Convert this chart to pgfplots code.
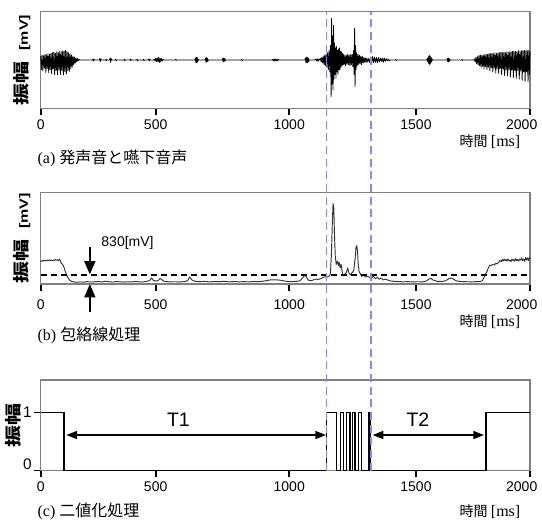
\documentclass[border=0pt]{standalone}
\usepackage{fontspec}
\setmainfont{Liberation Serif}
\setsansfont{Liberation Sans}
\newfontfamily\jp{Noto Sans CJK JP}
\usepackage{graphicx}
\usepackage{pgfplots}
\pgfplotsset{compat=1.18}
\usetikzlibrary{arrows.meta}
\definecolor{framegray}{gray}{0.5}
\definecolor{vblue}{RGB}{135,135,245}
\newcommand\tkf{\sffamily\fontsize{10.5}{12}\selectfont}
\newcommand\xlab{{\jp\fontsize{10.5}{12}\selectfont 時間} {\rmfamily\fontsize{12}{12}\selectfont [ms]}}
\newcommand\ylabmv{\scalebox{1}[0.75]{{\jp\bfseries\fontsize{16.5}{16.5}\selectfont 振幅}\hspace{8pt}{\sffamily\bfseries\fontsize{12}{12}\selectfont [mV]}}}
\pgfplotsset{
 panel/.style={
  scale only axis, width=367pt, xmin=0, xmax=2000,
  axis line style={draw=framegray, line width=0.8pt},
  xtick={0,470,1016,1534,2000},
  xticklabels={0,500,1000,1500,\hspace*{-12.4pt}2000},
  tick pos=left,
  tick align=outside, major tick length=5pt,
  xtick style={draw=black, line width=1.6pt},
  ytick style={draw=black, line width=0.7pt},
  xticklabel style={font=\tkf, inner xsep=1pt},
  clip=false,
 }
}
\begin{document}
\begin{tikzpicture}
\path (0,0) rectangle (406.5pt,-392.25pt);
% ---------------- (a)
\begin{axis}[panel, at={(30.5pt,-81.2pt)}, anchor=south west, height=72.45pt,
  ymin=-1, ymax=1, ytick=\empty,
  ylabel={\ylabmv}, ylabel style={at={(axis description cs:-0.0382,0.5)}, anchor=center},
  xlabel={\xlab}, xlabel style={at={(axis description cs:1,0)}, anchor=east, xshift=-3.75pt, yshift=-25pt}]
\addplot[black, line width=0.6pt, line join=round] coordinates {
(0,0.08)(3,-0.2)(6,0.1)(9,-0.22)(12,0.09)(15,-0.17)(18,0.12)(21,-0.26)(24,0.11)(27,-0.18)(30,0.13)(33,-0.27)(36,0.12)(39,-0.2)(42,0.14)(45,-0.29)(48,0.15)(51,-0.19)(54,0.16)(57,-0.3)(60,0.14)(63,-0.22)(66,0.17)(69,-0.31)(72,0.16)(75,-0.2)(78,0.18)(81,-0.3)(84,0.17)(87,-0.22)(90,0.19)(93,-0.31)(96,0.18)(99,-0.24)(102,0.2)(105,-0.29)(108,0.17)(111,-0.22)(114,0.15)(117,-0.24)(120,0.13)(123,-0.18)(126,0.1)(129,-0.15)(132,0.08)(135,-0.1)(138,0.06)(141,-0.07)(144,0.04)(147,-0.04)(150,0.03)(153,-0.02)(156,0.01)(160,0)
(170,0)(212,0)(214,0.02)(216,-0.02)(218,0.01)(220,0)(240,0)(242,0.03)(244,-0.03)(246,0.02)(248,0)(265,0)(267,0.015)(269,-0.015)(271,0)(282,0)(284,0.04)(286,-0.05)(288,0.03)(290,0)(305,0)(307,0.015)(309,-0.02)(311,0)(340,0)(342,0.015)(344,-0.015)(346,0)(365,0)(367,0.02)(369,-0.015)(371,0)(392,0)(394,0.015)(396,-0.02)(398,0)(418,0)(420,0.015)(422,-0.015)(424,0)(440,0)(442,0.02)(444,-0.02)(446,0.01)(448,0)(462,0)(464,0.02)(467,-0.02)(470,0.03)(473,-0.03)(476,0.04)(479,-0.04)(482,0.05)(485,-0.05)(488,0.04)(491,-0.04)(494,0.03)(497,-0.02)(500,0.01)(503,0)(550,0)(552,0.01)(554,-0.01)(556,0)(630,0)(632,0.04)(634,-0.05)(636,0.06)(638,-0.06)(640,0.05)(642,-0.04)(644,0.02)(646,0)(672,0)(674,0.04)(676,-0.05)(678,0.05)(680,-0.04)(682,0.03)(684,-0.02)(686,0)(742,0)(744,0.03)(746,-0.04)(748,0.04)(750,-0.03)(752,0.03)(754,-0.02)(756,0)(820,0)(822,0.01)(824,-0.01)(826,0)(945,0)(948,0.015)(951,-0.02)(954,0.02)(957,-0.02)(960,0.02)(963,-0.02)(966,0.015)(969,-0.015)(972,0.01)(975,0)(1080,0)(1082,0.04)(1084,-0.05)(1086,0.06)(1088,-0.06)(1090,0.05)(1092,-0.05)(1094,0.04)(1096,-0.03)(1098,0)(1120,0)(1125,0.02)(1128,-0.02)(1131,0.02)(1134,-0.03)(1137,0.02)(1140,0)
(1143,0.03)(1146,-0.04)(1149,0.05)(1152,-0.06)(1155,0.08)(1158,-0.1)(1161,0.1)(1164,-0.12)(1167,0.12)(1170,-0.15)(1173,0.15)(1176,-0.2)(1179,0.2)(1182,-0.25)(1185,0.3)(1187,-0.76)(1189,0.86)(1191,-0.5)(1193,0.5)(1195,-0.62)(1197,0.72)(1199,-0.4)(1201,0.35)(1203,-0.3)(1205,0.25)(1207,-0.38)(1209,0.28)(1211,-0.25)(1213,0.2)(1215,-0.3)(1217,0.22)(1219,-0.2)(1221,0.25)(1223,-0.21)(1225,0.18)(1227,-0.15)(1229,0.17)(1231,-0.12)(1233,0.14)(1235,-0.1)(1237,0.12)(1240,-0.1)(1243,0.1)(1246,-0.12)(1249,0.1)(1252,-0.09)(1255,0.12)(1258,-0.1)(1261,0.1)(1264,-0.12)(1267,0.11)(1270,-0.1)(1273,0.12)(1276,-0.14)(1279,0.2)(1281,-0.3)(1283,0.66)(1285,-0.55)(1287,0.3)(1289,-0.2)(1291,0.15)(1294,-0.12)(1297,0.12)(1300,-0.1)(1303,0.1)(1306,-0.08)(1309,0.08)(1312,-0.1)(1315,0.07)(1318,-0.06)(1321,0.05)(1324,-0.05)(1327,0.04)(1330,-0.05)(1333,0.04)(1336,-0.04)(1340,0.03)(1344,-0.05)(1348,0.06)(1352,-0.06)(1356,0.07)(1360,-0.06)(1364,0.06)(1368,-0.05)(1372,0.05)(1376,-0.06)(1380,0.05)(1384,-0.04)(1388,0.04)(1392,-0.03)(1396,0.04)(1400,-0.05)(1404,0.04)(1408,-0.03)(1412,0.03)(1416,-0.02)(1420,0.02)(1424,-0.02)(1428,0)
(1450,0)(1452,0.01)(1454,-0.01)(1456,0)(1578,0)(1580,0.03)(1582,-0.04)(1584,0.06)(1586,-0.08)(1588,0.1)(1590,-0.1)(1592,0.08)(1594,-0.07)(1596,0.05)(1598,-0.04)(1600,0.02)(1602,0)(1660,0)(1662,0.03)(1664,-0.04)(1666,0.04)(1668,-0.04)(1670,0.03)(1672,-0.02)(1674,0)(1720,0)(1722,0.01)(1724,-0.01)(1726,0)(1767,0)
(1770,0)(1773,0.02)(1776,-0.04)(1779,0.05)(1782,-0.08)(1785,0.07)(1788,-0.1)(1791,0.09)(1794,-0.12)(1797,0.1)(1800,-0.15)(1803,0.1)(1806,-0.13)(1809,0.11)(1812,-0.18)(1815,0.11)(1818,-0.14)(1821,0.12)(1824,-0.2)(1827,0.12)(1830,-0.15)(1833,0.13)(1836,-0.22)(1839,0.13)(1842,-0.16)(1845,0.14)(1848,-0.25)(1851,0.13)(1854,-0.17)(1857,0.15)(1860,-0.27)(1863,0.14)(1866,-0.18)(1869,0.15)(1872,-0.28)(1875,0.15)(1878,-0.18)(1881,0.16)(1884,-0.3)(1887,0.15)(1890,-0.19)(1893,0.16)(1896,-0.32)(1899,0.16)(1902,-0.2)(1905,0.17)(1908,-0.33)(1911,0.16)(1914,-0.2)(1917,0.17)(1920,-0.35)(1923,0.17)(1926,-0.21)(1929,0.18)(1932,-0.36)(1935,0.17)(1938,-0.22)(1941,0.18)(1944,-0.38)(1947,0.18)(1950,-0.22)(1953,0.19)(1956,-0.4)(1959,0.18)(1962,-0.23)(1965,0.19)(1968,-0.42)(1971,0.19)(1974,-0.24)(1977,0.2)(1980,-0.44)(1983,0.19)(1986,-0.25)(1989,0.2)(1992,-0.45)(1995,0.2)(1998,-0.3)(2000,0.18)
};
\node[anchor=west, font=\fontsize{12}{14}\selectfont] at ([xshift=-5.8pt,yshift=-38pt]rel axis cs:0,0) {{\rmfamily (a)} {\jp 発声音と嚥下音声}};
\end{axis}
% ---------------- (b)
\begin{axis}[panel, at={(30.5pt,-213pt)}, anchor=south west, height=68.5pt,
  ymin=0, ymax=8400, ytick=\empty,
  xticklabel style={yshift=-3.4pt},
  ylabel={\ylabmv}, ylabel style={at={(axis description cs:-0.0382,0.5)}, anchor=center},
  xlabel={\xlab}, xlabel style={at={(axis description cs:1,0)}, anchor=east, xshift=-3.75pt, yshift=-28.5pt}]
\addplot[black!80, line width=0.7pt, line join=round] coordinates {
(0,2050)(5,2150)(9,2100)(13,2200)(17,2130)(21,2180)(25,2120)(29,2200)(33,2150)(37,2230)(41,2160)(45,2190)(49,2140)(53,2210)(57,2170)(61,2260)(65,2180)(69,2230)(73,2150)(77,2300)(80,2150)
(84,1900)(88,1850)(92,1700)(96,1500)(100,1200)(104,950)(108,750)(112,560)(116,430)(120,330)(126,250)(134,200)(145,170)
(160,190)(175,170)(190,220)(205,180)(220,200)(235,240)(250,190)(265,260)(280,210)(295,180)(310,230)(325,200)(340,180)(355,210)(370,190)(385,230)(400,210)(415,180)(430,240)(445,300)(453,560)(460,350)(470,280)(480,300)(488,520)(495,400)(503,260)(515,220)(530,200)(550,210)(570,190)(590,230)(600,300)(609,650)(618,380)(630,250)(650,220)(670,240)(690,200)(710,230)(730,210)(750,250)(770,200)(790,230)(810,200)(830,220)(850,200)(870,230)(890,210)(910,260)(925,320)(940,380)(955,390)(970,370)(985,330)(1000,260)(1015,220)(1030,230)(1045,240)(1060,300)(1072,600)(1080,830)(1087,600)(1095,350)(1105,300)(1115,380)(1125,450)(1135,420)(1145,500)(1155,600)(1162,670)(1170,640)(1178,700)
(1184,900)(1188,2500)(1192,5500)(1195,7420)(1198,7000)(1201,4500)(1204,2600)(1208,1800)(1213,2100)(1217,1700)(1220,2000)(1224,1500)(1228,1800)(1234,900)(1240,800)(1245,950)(1250,1100)(1255,1470)(1260,1000)(1266,850)(1271,1000)(1276,1100)(1280,1300)(1285,2300)(1289,3400)(1292,3520)(1295,3000)(1298,1800)(1302,1100)(1306,980)(1312,700)(1320,800)(1328,650)(1336,700)(1344,620)(1352,560)(1360,700)(1368,480)(1376,620)(1384,430)(1392,560)(1400,380)(1410,450)(1425,300)(1441,250)
(1460,230)(1480,200)(1500,220)(1520,190)(1540,210)(1560,200)(1575,260)(1587,450)(1595,520)(1605,350)(1620,250)(1640,230)(1655,300)(1668,480)(1680,550)(1690,400)(1700,280)(1720,230)(1740,210)(1760,200)(1780,220)(1795,230)
(1805,300)(1812,600)(1818,900)(1825,1200)(1830,1500)(1836,1750)(1842,1700)(1848,1800)(1854,1750)(1860,1900)(1866,1850)(1872,2000)(1877,2150)(1882,2050)(1886,2250)(1890,2100)(1894,2300)(1898,2150)(1902,2250)(1906,2100)(1910,2300)(1914,2150)(1918,2200)(1922,2050)(1926,2300)(1930,2150)(1934,2250)(1938,2100)(1942,2350)(1946,2150)(1950,2250)(1954,2100)(1958,2300)(1962,2200)(1966,2400)(1970,2150)(1974,2300)(1978,2100)(1982,2450)(1986,2200)(1990,2400)(1994,2150)(1998,2480)(2000,2300)
};
\addplot[black, line width=1.1pt, dash pattern=on 5pt off 2.5pt] coordinates {(0,830) (2000,830)};
\draw[line width=1.8pt, -{Triangle[length=10pt,width=8pt]}] (axis cs:201,3400) -- (axis cs:201,870);
\draw[line width=1.8pt, -{Triangle[length=10pt,width=8pt]}] (axis cs:201,-2550) -- (axis cs:201,0);
\node[font=\tkf] at (axis cs:355,3744) {830[mV]};
\node[anchor=west, font=\fontsize{12}{14}\selectfont] at ([xshift=-5.8pt,yshift=-38.3pt]rel axis cs:0,0) {{\rmfamily (b)} {\jp 包絡線処理}};
\end{axis}
% ---------------- (c)
\begin{axis}[panel, at={(30.5pt,-353pt)}, anchor=south west, height=68pt,
  ymin=0, ymax=1.564, ytick={0,1}, yticklabels={\raisebox{10pt}{0},1}, yticklabel pos=left,
  yticklabel style={font=\sffamily\fontsize{11.5}{12}\selectfont, inner xsep=1.5pt},
  ylabel={\scalebox{1}[0.75]{\jp\bfseries\fontsize{16.5}{16.5}\selectfont 振幅}},
  ylabel style={at={(axis description cs:-0.0556,0.5)}, anchor=center},
  xlabel={\xlab}, xlabel style={at={(axis description cs:1,0)}, anchor=east, xshift=-3.75pt, yshift=-30.5pt}]
\addplot[black, line width=1.1pt] coordinates {
(0,1)(95,1)(95,0)(1168,0)(1168,1)(1210,1)(1210,0)(1226,0)(1226,1)(1237,1)(1237,0)(1251,0)(1251,1)(1264,1)(1264,0)(1275,0)(1275,1)(1285,1)(1285,0)(1298,0)(1298,1)(1312,1)(1312,0)(1339,0)(1339,1)(1346,1)(1346,0)(1820,0)(1820,1)(2000,1)
};
\draw[line width=1.1pt, {Triangle[length=8pt,width=6pt]}-{Triangle[length=8pt,width=6pt]}] (axis cs:105,0.615) -- (axis cs:1166,0.615);
\draw[line width=1.1pt, {Triangle[length=8pt,width=6pt]}-{Triangle[length=8pt,width=6pt]}] (axis cs:1357,0.615) -- (axis cs:1812,0.615);
\node[font=\sffamily\fontsize{14.6}{16}\selectfont] at (axis cs:563,0.874) {T1};
\node[font=\sffamily\fontsize{14.6}{16}\selectfont] at (axis cs:1542,0.874) {T2};
\addplot[vblue, line width=1.2pt, dash pattern=on 6pt off 3.5pt] coordinates {(1168,0) (1168,7.914)};
\addplot[vblue, line width=1.2pt, dash pattern=on 6pt off 3.5pt] coordinates {(1349,0) (1349,7.914)};
\node[anchor=west, font=\fontsize{12}{14}\selectfont] at ([xshift=-5.8pt,yshift=-30.75pt]rel axis cs:0,0) {{\rmfamily (c)} {\jp 二値化処理}};
\end{axis}
\end{tikzpicture}
\end{document}
